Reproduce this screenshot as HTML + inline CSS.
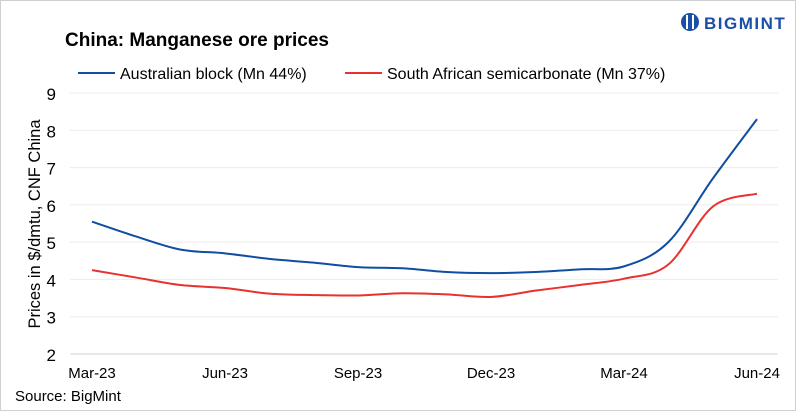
<!DOCTYPE html>
<html><head><meta charset="utf-8"><style>
body{margin:0;background:#fff;font-family:"Liberation Sans",Arial,sans-serif}
svg text{font-family:"Liberation Sans",Arial,sans-serif}
</style></head><body>
<svg width="796" height="411" viewBox="0 0 796 411">
<rect x="0.5" y="0.5" width="795" height="410" fill="#fff" stroke="#d0d0d0"/>
<text x="65" y="46" font-size="19" font-weight="bold" fill="#000">China: Manganese ore prices</text>
<g>
<circle cx="690" cy="22" r="9" fill="#1a4fa8"/>
<rect x="686" y="15" width="2" height="14" fill="#fff"/><rect x="692" y="15" width="2" height="14" fill="#fff"/>
<text x="704" y="29" font-size="17" font-weight="bold" fill="#1a4fa8" letter-spacing="1.5">BIGMINT</text>
</g>
<g>
<line x1="78" y1="73" x2="115" y2="73" stroke="#0f4ea0" stroke-width="2"/>
<text x="120" y="79" font-size="16" fill="#000">Australian block (Mn 44%)</text>
<line x1="345" y1="73" x2="382" y2="73" stroke="#e8322f" stroke-width="2"/>
<text x="387" y="79" font-size="16" fill="#000">South African semicarbonate (Mn 37%)</text>
</g>
<g id="grid"></g><g id="axes"></g><g id="lines"></g>
<text transform="translate(40,224) rotate(-90)" text-anchor="middle" font-size="16.5" fill="#000">Prices in $/dmtu, CNF China</text>
<text x="15" y="401" font-size="15" fill="#000">Source:  BigMint</text>
</svg>
<script>
const months=["Mar-23","Apr-23","May-23","Jun-23","Jul-23","Aug-23","Sep-23","Oct-23","Nov-23","Dec-23","Jan-24","Feb-24","Mar-24","Apr-24","May-24","Jun-24"];
const australian=[5.55,5.15,4.8,4.7,4.55,4.45,4.33,4.3,4.2,4.17,4.2,4.27,4.35,5.0,6.7,8.3];
const southAfrican=[4.25,4.05,3.85,3.77,3.62,3.58,3.57,3.63,3.6,3.53,3.7,3.85,4.02,4.4,5.95,6.3];
const yTicks=[2,3,4,5,6,7,8,9];
const xTickLabels=["Mar-23","Jun-23","Sep-23","Dec-23","Mar-24","Jun-24"];
const NS="http://www.w3.org/2000/svg";
const x=i=>92+i*(757-92)/(months.length-1);
const y=v=>354-(v-2)*(354-93)/7;
function mk(t,a,p){const e=document.createElementNS(NS,t);for(const k in a)e.setAttribute(k,a[k]);p.appendChild(e);return e;}
const grid=document.getElementById('grid'),axes=document.getElementById('axes'),lines=document.getElementById('lines');
yTicks.forEach(v=>{
 const l=mk('line',{x1:70,x2:778,y1:y(v),y2:y(v),stroke:v===2?'#d0d0d0':'#ececec','stroke-width':1},grid);
 
 
 const t=mk('text',{x:56,y:y(v)+7,'text-anchor':'end','font-size':17,fill:'#000'},axes);
 t.textContent=v;
 
 
});
xTickLabels.forEach(lab=>{
 const i=months.indexOf(lab);
 const t=mk('text',{x:x(i),y:378,'text-anchor':'middle','font-size':15,fill:'#000'},axes);
 t.textContent=lab;
 
 
});
function path(vals){
 const p=vals.map((v,i)=>[x(i),y(v)]);
 let d='M'+p[0][0]+','+p[0][1];
 for(let i=0;i<p.length-1;i++){
  const p0=p[Math.max(i-1,0)],p1=p[i],p2=p[i+1],p3=p[Math.min(i+2,p.length-1)];
  const c1=[p1[0]+(p2[0]-p0[0])/6,p1[1]+(p2[1]-p0[1])/6],c2=[p2[0]-(p3[0]-p1[0])/6,p2[1]-(p3[1]-p1[1])/6];
  d+=` C${c1[0]},${c1[1]} ${c2[0]},${c2[1]} ${p2[0]},${p2[1]}`;
 }
 return d;
}
const a=mk('path',{d:path(australian),fill:'none',stroke:'#0f4ea0','stroke-width':2},lines);


const s=mk('path',{d:path(southAfrican),fill:'none',stroke:'#e8322f','stroke-width':2},lines);


</script>
</body></html>
